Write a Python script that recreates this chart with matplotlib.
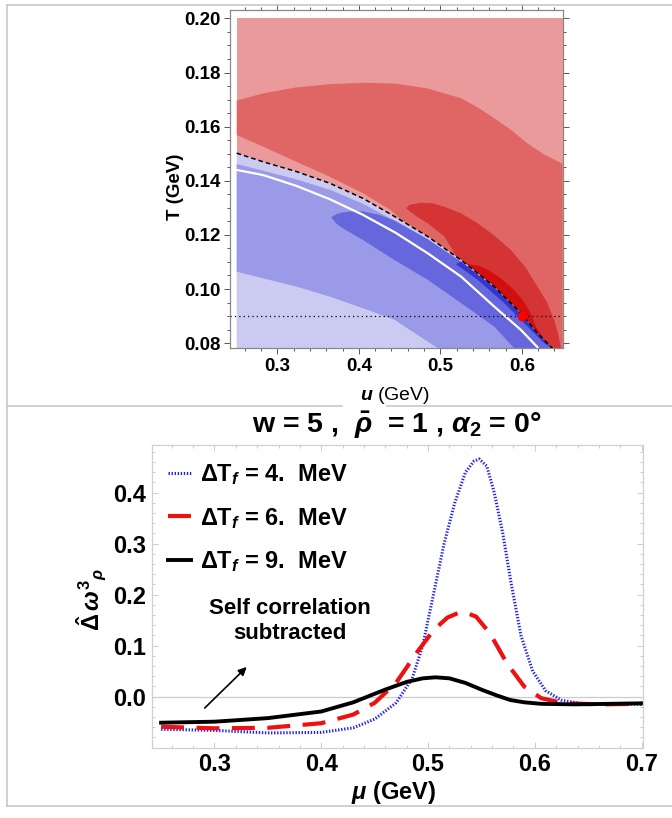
import numpy as np
import matplotlib
matplotlib.use("Agg")
import matplotlib.pyplot as plt
from matplotlib.lines import Line2D
from matplotlib.ticker import MultipleLocator

plt.rcParams['font.family'] = ['Liberation Sans', 'DejaVu Sans']
plt.rcParams['mathtext.fontset'] = 'custom'
plt.rcParams['mathtext.rm'] = 'Liberation Sans:bold'
plt.rcParams['mathtext.bf'] = 'Liberation Sans:bold'
plt.rcParams['mathtext.it'] = 'Liberation Sans:italic:bold'

# ---------------- top panel data (mu, T in GeV) ----------------
mu_min, mu_max = 0.25, 0.65
T_min, T_max = 0.0781, 0.20

# phase boundary (dashed)
pb_mu = [0.25, 0.2826, 0.3234, 0.3642, 0.405, 0.445, 0.4845, 0.5254, 0.5662, 0.5988, 0.6192, 0.6375]
pb_T = [0.1502, 0.147, 0.1434, 0.1391, 0.1335, 0.1266, 0.1194, 0.1107, 0.1009, 0.0911, 0.0837, 0.0781]

# white line
wl_mu = [0.25, 0.2826, 0.3234, 0.3642, 0.405, 0.445, 0.4845, 0.5254, 0.5662, 0.5988, 0.6192]
wl_T = [0.144, 0.1421, 0.1381, 0.1332, 0.1274, 0.1208, 0.1132, 0.1046, 0.0935, 0.0849, 0.0785]

# red contour bands
mr_top_mu = [0.25, 0.2826, 0.3234, 0.3642, 0.405, 0.445, 0.4845, 0.5254, 0.5458, 0.5662, 0.5866,
             0.607, 0.6274, 0.6478, 0.65]
mr_top_T = [0.1696, 0.1723, 0.1745, 0.1757, 0.1762, 0.1759, 0.1741, 0.1705, 0.1671, 0.1631, 0.1588,
            0.1538, 0.1497, 0.1466, 0.1462]
mr_low_mu = [0.25, 0.2826, 0.3234, 0.3642, 0.405, 0.4388, 0.455]
mr_low_T = [0.1569, 0.1526, 0.147, 0.1415, 0.1354, 0.1292, 0.1248]

dr_up_mu = [0.458, 0.462, 0.4764, 0.49, 0.505, 0.525, 0.5458, 0.566, 0.5866, 0.604, 0.6192, 0.631,
            0.6396, 0.645, 0.6478]
dr_up_T = [0.1298, 0.1311, 0.1319, 0.1317, 0.1304, 0.128, 0.1243, 0.1198, 0.1144, 0.1082, 0.1009, 0.095,
           0.0886, 0.083, 0.0781]
dr_low_mu = [0.458, 0.47, 0.4845, 0.505, 0.52]
dr_low_T = [0.1298, 0.127, 0.1243, 0.1194, 0.1118]

rr_up_mu = [0.5296, 0.535, 0.5478, 0.562, 0.5764, 0.59, 0.601, 0.61, 0.6172, 0.623, 0.628, 0.6375]
rr_up_T = [0.1097, 0.1092, 0.1085, 0.1065, 0.1034, 0.0998, 0.096, 0.0915, 0.0861, 0.0835, 0.081, 0.0781]

# blue contour bands
b2_up_mu = [0.25, 0.2826, 0.3234, 0.3642, 0.405, 0.445, 0.4845, 0.5254, 0.5662, 0.5988, 0.6192, 0.6375]
b2_up_T = [0.1462, 0.1437, 0.1405, 0.1367, 0.1315, 0.1251, 0.1184, 0.1101, 0.1006, 0.0909, 0.0836, 0.0781]
b2_low_mu = [0.25, 0.3234, 0.3642, 0.405, 0.4438, 0.497]
b2_low_T = [0.1064, 0.1009, 0.0972, 0.0929, 0.0886, 0.0781]

b3_up_mu = [0.366, 0.372, 0.38, 0.39, 0.405, 0.425, 0.445, 0.4845, 0.5254, 0.5662, 0.5988, 0.6192, 0.6375]
b3_up_T = [0.1265, 0.1276, 0.1283, 0.1287, 0.1287, 0.1274, 0.1251, 0.1184, 0.1101, 0.1006, 0.0909, 0.0836, 0.0781]
b3_low_mu = [0.366, 0.372, 0.38, 0.405, 0.4438, 0.4845, 0.5254, 0.5662, 0.5906]
b3_low_T = [0.1265, 0.1243, 0.1225, 0.1181, 0.1107, 0.1034, 0.0948, 0.0861, 0.0781]

b4_up_mu = [0.519, 0.5254, 0.5662, 0.5988, 0.6192, 0.6375]
b4_up_T = [0.1092, 0.1101, 0.1006, 0.0909, 0.0836, 0.0781]
b4_low_mu = [0.519, 0.5458, 0.5784, 0.607, 0.6274, 0.6375]
b4_low_T = [0.1092, 0.1034, 0.0948, 0.0861, 0.08, 0.0781]

cp_mu, cp_T = 0.6, 0.09
T_line = 0.09

# ---------------- bottom panel data ----------------
mu_b = [0.25, 0.30, 0.35, 0.40, 0.43, 0.45, 0.47, 0.485, 0.495, 0.505, 0.515, 0.525, 0.535, 0.543,
        0.548, 0.555, 0.562, 0.57, 0.578, 0.587, 0.598, 0.61, 0.625, 0.645, 0.67, 0.70]
w_b = [-0.064, -0.066, -0.071, -0.070, -0.061, -0.044, -0.012, 0.035, 0.10, 0.20, 0.30, 0.38, 0.44, 0.462,
       0.466, 0.452, 0.40, 0.32, 0.22, 0.12, 0.05, 0.012, -0.007, -0.014, -0.015, -0.015]

mu_r = [0.25, 0.30, 0.35, 0.40, 0.43, 0.45, 0.47, 0.49, 0.505, 0.518, 0.528, 0.535, 0.545, 0.558,
        0.574, 0.59, 0.606, 0.628, 0.66, 0.70]
w_r = [-0.059, -0.062, -0.061, -0.052, -0.035, -0.012, 0.027, 0.088, 0.130, 0.155, 0.164, 0.165, 0.157, 0.124,
       0.065, 0.02, -0.003, -0.013, -0.015, -0.014]

mu_k = [0.25, 0.30, 0.35, 0.40, 0.43, 0.46, 0.48, 0.495, 0.507, 0.52, 0.535, 0.551, 0.565, 0.577,
        0.59, 0.606, 0.637, 0.67, 0.70]
w_k = [-0.051, -0.049, -0.042, -0.029, -0.011, 0.014, 0.029, 0.036, 0.038, 0.036, 0.027, 0.013, 0.002, -0.0065,
       -0.011, -0.014, -0.015, -0.014, -0.013]

labels = [r"ΔT$_{f}$ = 4.  MeV", r"ΔT$_{f}$ = 6.  MeV", r"ΔT$_{f}$ = 9.  MeV"]

W, H = 672, 818
fig = plt.figure(figsize=(W / 100, H / 100), dpi=100)


def px_rect(l, t, r, b):
    return [l / W, 1 - b / H, (r - l) / W, (b - t) / H]


# ===================== top panel =====================
ax1 = fig.add_axes(px_rect(230, 10, 563, 348.3))
ax1.set_xlim(0.2418, 0.6505)
ax1.set_ylim(T_min, 0.2031)

ax1.fill([mu_min, mu_max, mu_max, mu_min], [T_min, T_min, T_max, T_max], color='#EA9A9A', lw=0)

# medium red
poly_mu = list(mr_top_mu) + [mu_max]
poly_T = list(mr_top_T) + [T_min]
for m, t in zip(pb_mu[::-1], pb_T[::-1]):
    if m > 0.455:
        poly_mu.append(m)
        poly_T.append(t)
poly_mu += mr_low_mu[::-1]
poly_T += mr_low_T[::-1]
ax1.fill(poly_mu, poly_T, color='#E06565', lw=0)

# darker red
poly_mu = list(dr_up_mu)
poly_T = list(dr_up_T)
for m, t in zip(pb_mu[::-1], pb_T[::-1]):
    if m > 0.52:
        poly_mu.append(m)
        poly_T.append(t)
poly_mu += dr_low_mu[::-1]
poly_T += dr_low_T[::-1]
ax1.fill(poly_mu, poly_T, color='#D43434', lw=0)

# deepest red
poly_mu = list(rr_up_mu)
poly_T = list(rr_up_T)
for m, t in zip(pb_mu[::-1], pb_T[::-1]):
    if 0.5296 < m < 0.6375:
        poly_mu.append(m)
        poly_T.append(t)
ax1.fill(poly_mu, poly_T, color='#D20E0E', lw=0)

# blue side
ax1.fill(list(pb_mu) + [mu_min], list(pb_T) + [T_min], color='#CBCBF2', lw=0)
ax1.fill(list(b2_up_mu) + b2_low_mu[::-1], list(b2_up_T) + b2_low_T[::-1], color='#9A9AE8', lw=0)
ax1.fill(list(b3_up_mu) + b3_low_mu[::-1], list(b3_up_T) + b3_low_T[::-1], color='#6767DD', lw=0)
ax1.fill(list(b4_up_mu) + b4_low_mu[::-1], list(b4_up_T) + b4_low_T[::-1], color='#3434CF', lw=0)

ax1.plot(wl_mu, wl_T, color='white', lw=1.6)
ax1.plot(pb_mu, pb_T, color='black', lw=1.1, ls=(0, (3, 2)))
ax1.axhline(T_line, color='black', lw=0.9, ls=(0, (1, 2.5)))
ax1.plot([cp_mu], [cp_T], 'o', color='#FF0000', ms=6)

ax1.set_xticks([0.3, 0.4, 0.5, 0.6])
ax1.set_xticklabels(['0.3', '0.4', '0.5', '0.6'])
ax1.set_yticks([0.08, 0.10, 0.12, 0.14, 0.16, 0.18, 0.20])
ax1.set_yticklabels(['0.08', '0.10', '0.12', '0.14', '0.16', '0.18', '0.20'])
ax1.xaxis.set_minor_locator(MultipleLocator(0.02))
ax1.yaxis.set_minor_locator(MultipleLocator(0.005))
ax1.tick_params(which='both', direction='out', top=True, right=True, color='#555555', width=0.7)
ax1.tick_params(which='major', length=4, pad=3, labelsize=13.5)
ax1.tick_params(which='minor', length=2)
for lab in ax1.get_xticklabels() + ax1.get_yticklabels():
    lab.set_fontweight('bold')
for s in ax1.spines.values():
    s.set_color('#888888')
    s.set_linewidth(0.9)

fig.text(175 / W, 1 - 187 / H, 'T (GeV)', rotation=90, ha='center', va='center',
         fontsize=13.5, fontweight='bold')
fig.text(395 / W, 1 - 396 / H, '$u$ (GeV)', ha='center', va='center', fontsize=14)

# ===================== bottom panel =====================
ax2 = fig.add_axes(px_rect(151.7, 445, 642.7, 747.7))
ax2.set_xlim(0.2412, 0.701)
ax2.set_ylim(-0.1, 0.4935)
ax2.axhline(0, color='#CCCCCC', lw=0.9, zorder=0)

ax2.plot(mu_b, w_b, color='#2222EE', lw=2.2, ls=(0, (0.45, 0.55)), label=labels[0])
ax2.plot(mu_r, w_r, color='#EE1111', lw=3.0, ls=(0, (5.5, 3)), label=labels[1])
ax2.plot(mu_k, w_k, color='black', lw=2.8, label=labels[2])

ax2.set_xticks([0.3, 0.4, 0.5, 0.6, 0.7])
ax2.set_xticklabels(['0.3', '0.4', '0.5', '0.6', '0.7'])
ax2.set_yticks([0.0, 0.1, 0.2, 0.3, 0.4])
ax2.set_yticklabels(['0.0', '0.1', '0.2', '0.3', '0.4'])
ax2.xaxis.set_minor_locator(MultipleLocator(0.02))
ax2.yaxis.set_minor_locator(MultipleLocator(0.02))
ax2.tick_params(which='both', direction='in', top=True, right=True, color='#CCCCCC', width=0.7)
ax2.tick_params(which='major', length=4, labelsize=17, pad=4)
ax2.tick_params(which='minor', length=2)
for lab in ax2.get_xticklabels() + ax2.get_yticklabels():
    lab.set_fontweight('bold')
for s in ax2.spines.values():
    s.set_color('#D0D0D0')
    s.set_linewidth(0.9)

leg = ax2.legend(loc='upper left', bbox_to_anchor=(0.0, 0.997), frameon=False,
                 prop={'size': 17, 'weight': 'bold'}, handlelength=0.95, handletextpad=0.4,
                 labelspacing=0.78, borderaxespad=0.3)

ax2.annotate('', xy=(0.332, 0.062), xytext=(0.289, -0.026),
             arrowprops=dict(arrowstyle='-|>', color='black', lw=1.2, mutation_scale=12))
ax2.text(0.371, 0.148, 'Self correlation\nsubtracted', ha='center', va='center',
         fontsize=16, fontweight='bold', linespacing=1.25)

fig.text(92 / W, 1 - 600 / H, r'$\hat{\Delta}\,\omega^{3}{}_{\rho}$', rotation=90,
         ha='center', va='center', fontsize=17)
fig.text(394 / W, 1 - 792 / H, r'$\mu$ (GeV)', ha='center', va='center',
         fontsize=17, fontweight='bold')
fig.text(397 / W, 1 - 425 / H, r'w = 5 ,  $\bar{\rho}$  = 1 , $\alpha_{2}$ = 0°',
         ha='center', va='center', fontsize=20.5, fontweight='bold')

# grid separator lines
sep = dict(color='#C8C8C8', lw=1.2)
fig.add_artist(Line2D([7 / W, 1], [1 - 5 / H, 1 - 5 / H], **sep))
fig.add_artist(Line2D([7 / W, 342 / W], [1 - 406 / H, 1 - 406 / H], **sep))
fig.add_artist(Line2D([387 / W, 1], [1 - 406 / H, 1 - 406 / H], **sep))
fig.add_artist(Line2D([7 / W, 1], [1 - 806 / H, 1 - 806 / H], **sep))
fig.add_artist(Line2D([7 / W, 7 / W], [1 - 5 / H, 1 - 806 / H], **sep))

fig.savefig('out.png', dpi=100)
